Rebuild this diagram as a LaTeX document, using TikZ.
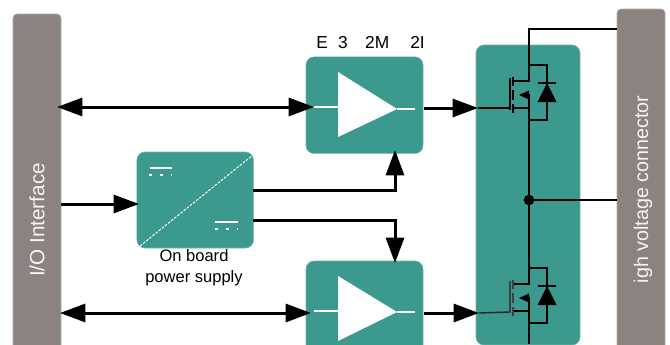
\documentclass[tikz,border=0pt]{standalone}
\usepackage{fontspec}
\setmainfont{Liberation Sans}
\usetikzlibrary{arrows.meta}
\definecolor{tealb}{HTML}{3B9A8D}
\definecolor{greyb}{HTML}{8C8381}
\tikzset{
 tealbox/.style={fill=tealb,draw=tealb!75!white,line width=0.4pt,rounded corners=6pt,inner sep=0pt},
 greybox/.style={fill=greyb,draw=greyb!70!white,line width=0.4pt,rounded corners=3pt,inner sep=0pt},
 bigline/.style={line width=2.25pt,line cap=butt,-{Triangle[length=19pt,width=13.5pt]}},
 bigboth/.style={line width=2.25pt,{Triangle[length=19pt,width=13.5pt]}-{Triangle[length=19pt,width=13.5pt]}},
 wire/.style={line width=1.3pt,black,line join=miter},
 thin wire/.style={line width=1.05pt,black!85},
 whitewire/.style={line width=1.2pt,white},
 amp/.style={fill=white,draw=none},
 caption/.style={text=black,font=\fontsize{12.4pt}{15.5pt}\selectfont,inner sep=0pt,align=center},
 vlabel/.style={text=white!92!greyb,rotate=90,inner sep=0pt},
 dotnode/.style={circle,fill=black,minimum size=8pt,inner sep=0pt},
}
\newcommand{\mosfet}[2]{%
 \begin{scope}[shift={(0,#1)}]
  \draw[wire] (529,-27) -- (529,0) -- (513,0);
  \draw[wire] (513,27) -- (529,27) -- (529,39);
  \draw[wire] (529,-16) -- (547,-16) -- (547,39) -- (529,39);
  \draw[wire] (529,27) -- (529,14) -- (520,14);
  \fill[black] (519,14) -- (529,9.5) -- (529,18.5) -- cycle;
  \draw[line width=1.2pt,#2] (513,-4) -- (513,5) (513,9) -- (513,19) (513,23) -- (513,32);
  \draw[line width=1.2pt,#2] (510,-3) -- (510,29);
  \fill[black] (547,2) -- (556.5,21) -- (537.5,21) -- cycle;
  \draw[line width=1.2pt] (538,2) -- (556,2);
 \end{scope}}
\begin{document}
\begin{tikzpicture}[x=0.75pt,y=-0.75pt]
\useasboundingbox (0,0) rectangle (670,344);
\clip (0,0) rectangle (670,344);
% boxes
\node[greybox,minimum width=36pt,minimum height=267pt] (io) at (37,192) {};
\node[greybox,minimum width=36pt,minimum height=270.75pt] (hv) at (641,189.5) {};
\node[tealbox,minimum width=87.4pt,minimum height=72pt] (psu) at (195.2,200) {};
\node[tealbox,minimum width=87.75pt,minimum height=72.4pt] (drvA) at (364.5,105.2) {};
\node[tealbox,minimum width=87.75pt,minimum height=72pt] (drvB) at (364.5,309) {};
\node[tealbox,minimum width=78pt,minimum height=225pt] (sw) at (528,195) {};
% labels
\node[vlabel,font=\fontsize{15.5pt}{18pt}\selectfont] (iolab) at (37,220) {I/O Interface};
\node[vlabel,font=\fontsize{14.8pt}{18pt}\selectfont] (hvlab) at (643,189.5) {igh voltage connector};
\node[caption,anchor=center] (psulab) at (194,268) {On board\\power supply};
\node[caption,anchor=west,font=\fontsize{13pt}{15pt}\selectfont] (drvlab) at (316,43) {E\hspace{7.8pt}3\hspace{13pt}2M\hspace{15.75pt}2I};
% amplifier symbols
\fill[amp] (338,72) -- (397,109) -- (338,137) -- cycle;
\fill[amp] (338,276) -- (397,312) -- (338,341) -- cycle;
\draw[whitewire] (314,107) -- (338,107) (397,109) -- (415,109);
\draw[whitewire] (314,311) -- (338,311) (397,312) -- (415,312);
% converter symbol
\draw[white,line width=0.7pt,dash pattern=on 2pt off 1pt] (140,246) -- (253,155);
\draw[white,line width=1.2pt] (150,168) -- (172,168) (215,222) -- (238,222);
\draw[white,line width=1.2pt,dash pattern=on 2pt off 6.2pt] (149,175) -- (172,175) (215,229) -- (238,229);
% coordinates
\coordinate (ioA) at (57,107); \coordinate (drvAin) at (314,107);
\coordinate (ioM) at (61,204); \coordinate (psuin) at (139,204);
\coordinate (ioB) at (60,313); \coordinate (drvBin) at (311,313);
\coordinate (psuoutA) at (253,190); \coordinate (drvAbot) at (395,150);
\coordinate (psuoutB) at (253,220); \coordinate (drvBtop) at (395,263);
\coordinate (drvAout) at (424,108); \coordinate (gateA) at (478,108);
\coordinate (drvBout) at (424,313); \coordinate (gateB) at (479,313);
\coordinate (topjct) at (529,29); \coordinate (hvtop) at (617,29);
\coordinate (mid) at (529,200); \coordinate (hvmid) at (617,200);
% big arrows
\draw[bigboth] (ioA) -- (drvAin);
\draw[bigline] (ioM) -- (psuin);
\draw[bigboth] (ioB) -- (drvBin);
\draw[bigline] (psuoutA) -- (drvAbot |- psuoutA) -- (drvAbot);
\draw[bigline] (psuoutB) -- (drvBtop |- psuoutB) -- (drvBtop);
\draw[bigline] (drvAout) -- (gateA);
\draw[bigline] (drvBout) -- (gateB);
% gate wires
\draw[wire] (gateA) -- (510,108);
\draw[thin wire] (gateB) -- (509,312);
% MOSFETs
\mosfet{81}{black}
\mosfet{284}{black!75}
% power rails
\draw[wire] (hvtop) -- (topjct) -- (529,54);
\draw[wire] (529,120) -- (mid);
\draw[wire] (mid) -- (529,257);
\draw[wire] (mid) -- (hvmid);
\draw[line width=2pt] (529,323) -- (529,344);
\node[dotnode] (jct) at (mid) {};
\end{tikzpicture}
\end{document}
